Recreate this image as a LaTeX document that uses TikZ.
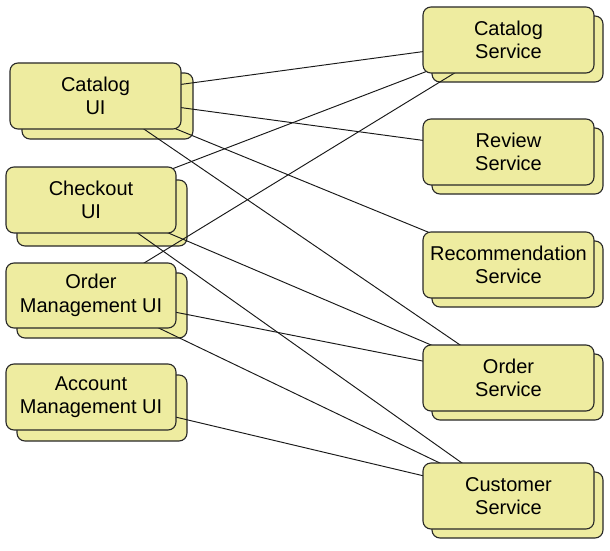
\documentclass[tikz,border=0pt]{standalone}
\usepackage{fontspec}
\setmainfont{Liberation Sans}
\pgfdeclarelayer{bg}
\pgfdeclarelayer{mid}
\pgfsetlayers{bg,mid,main}
\definecolor{boxfill}{RGB}{238,236,160}
\definecolor{boxdraw}{RGB}{40,40,40}
\begin{document}
\begin{tikzpicture}[x=1pt,y=-1pt,
  box/.style={draw=boxdraw, line width=1.1pt, fill=boxfill, rounded corners=8pt,
    minimum width=171pt, minimum height=66pt, inner sep=0pt, align=center,
    font=\fontsize{20}{23.5}\selectfont},
  link/.style={draw=black!90, line width=0.95pt}]
\useasboundingbox (0,0) rectangle (610,551);
% front boxes
\node[box] (catui) at (95.5,96) {Catalog\\UI};
\node[box, minimum width=170pt] (chkui) at (91,200) {Checkout\\UI};
\node[box, minimum width=170pt, minimum height=65pt] (ordui) at (91,295.5) {Order\\Management UI};
\node[box, minimum width=170pt] (accui) at (91,397) {Account\\Management UI};
\node[box] (catsvc) at (508.5,40) {Catalog\\Service};
\node[box] (revsvc) at (508.5,152) {Review\\Service};
\node[box] (recsvc) at (508.5,265) {Recommendation\\Service};
\node[box] (ordsvc) at (508.5,378) {Order\\Service};
\node[box] (cussvc) at (508.5,496) {Customer\\Service};
% back boxes
\begin{pgfonlayer}{bg}
\fill[white] (0,0) rectangle (610,551);
\node[box] (catuiB) at ([shift={(12,10)}]catui.center) {};
\node[box, minimum width=170pt] (chkuiB) at ([shift={(11,13)}]chkui.center) {};
\node[box, minimum width=170pt, minimum height=65pt] (orduiB) at ([shift={(11,10)}]ordui.center) {};
\node[box, minimum width=170pt] (accuiB) at ([shift={(11,11)}]accui.center) {};
\node[box] (catsvcB) at ([shift={(9,9)}]catsvc.center) {};
\node[box] (revsvcB) at ([shift={(9,9)}]revsvc.center) {};
\node[box] (recsvcB) at ([shift={(9,9)}]recsvc.center) {};
\node[box] (ordsvcB) at ([shift={(9,9)}]ordsvc.center) {};
\node[box] (cussvcB) at ([shift={(9,9)}]cussvc.center) {};
\end{pgfonlayer}
% connectors
\begin{pgfonlayer}{mid}
\draw[link] (catui.center) -- (catsvc.center);
\draw[link] (catui.center) -- (revsvc.center);
\draw[link] (catui.center) -- (recsvc.center);
\draw[link] (catui.center) -- (ordsvc.center);
\draw[link] (chkui.center) -- (catsvc.center);
\draw[link] (chkui.center) -- (ordsvc.center);
\draw[link] (chkui.center) -- (cussvc.center);
\draw[link] (ordui.center) -- (catsvc.center);
\draw[link] (ordui.center) -- (ordsvc.center);
\draw[link] (ordui.center) -- (cussvc.center);
\draw[link] (accui.center) -- (cussvc.center);
\end{pgfonlayer}
\end{tikzpicture}
\end{document}
